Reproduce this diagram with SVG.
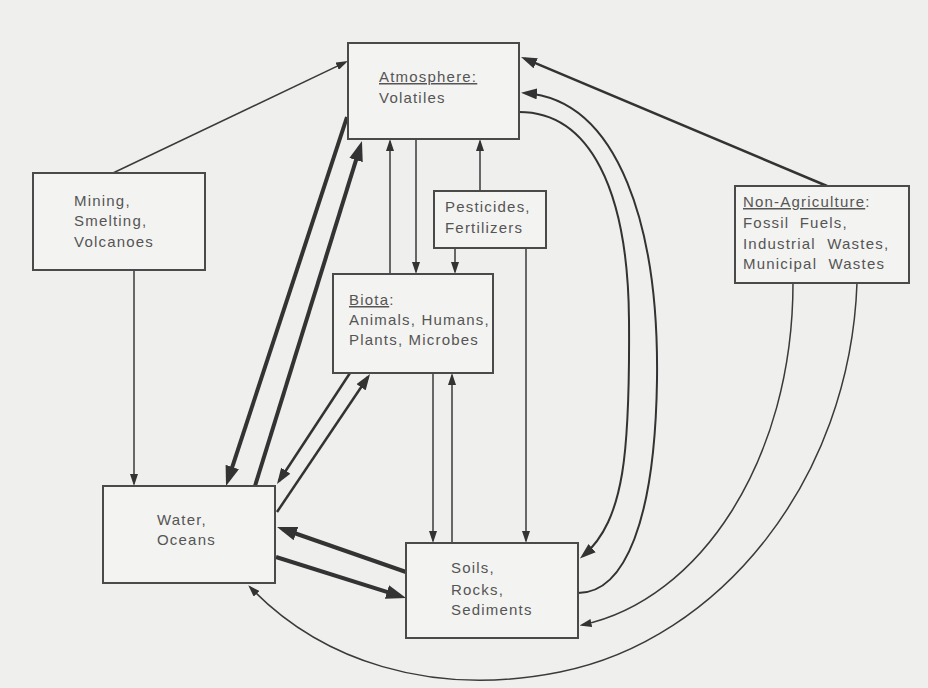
<svg xmlns="http://www.w3.org/2000/svg" width="928" height="688" viewBox="0 0 928 688">
<style>
.box{fill:#f3f3f1;stroke:#4a4a4a;stroke-width:2}
.t{font-family:"Liberation Sans",Arial,sans-serif;font-size:15px;fill:#555;letter-spacing:1.2px}
.u{text-decoration:underline}
.thick{fill:none;stroke:#333;stroke-width:4}
.med{fill:none;stroke:#333;stroke-width:2.5}
.thin{fill:none;stroke:#3a3a3a;stroke-width:1.5}
.crv{fill:none;stroke:#333;stroke-width:2}
</style>
<defs>
<marker id="big" markerUnits="userSpaceOnUse" viewBox="0 0 20 14" refX="14" refY="7" markerWidth="20" markerHeight="14" orient="auto"><path d="M0,0 L20,7 L0,14 z" fill="#333"/></marker>
<marker id="mid" markerUnits="userSpaceOnUse" viewBox="0 0 16 11" refX="12" refY="5.5" markerWidth="16" markerHeight="11" orient="auto"><path d="M0,0 L16,5.5 L0,11 z" fill="#333"/></marker>
<marker id="sm" markerUnits="userSpaceOnUse" viewBox="0 0 12 8" refX="9.5" refY="4" markerWidth="12" markerHeight="8" orient="auto"><path d="M0,0 L12,4 L0,8 z" fill="#333"/></marker>
</defs>
<rect width="928" height="688" fill="#efefed"/>

<g id="connectors">
<path class="thin" d="M113,173 L345.7,62.1" marker-end="url(#sm)"/>
<path class="thin" d="M134,270 L134,483.5" marker-end="url(#sm)"/>
<path class="thick" d="M347,117 L227.9,480.3" marker-end="url(#big)"/>
<path class="thick" d="M255,486 L360.2,146.7" marker-end="url(#big)"/>
<path class="med" d="M350,373 L279.2,480.7" marker-end="url(#mid)"/>
<path class="med" d="M277,512 L367.8,377.3" marker-end="url(#mid)"/>
<path class="thick" d="M406,572 L282.7,529" marker-end="url(#big)"/>
<path class="thick" d="M276,557 L400.3,596.2" marker-end="url(#big)"/>
<path class="thin" d="M390,274 L390,141.5" marker-end="url(#sm)"/>
<path class="thin" d="M416,139 L416,271.5" marker-end="url(#sm)"/>
<path class="thin" d="M480,191 L480,141.5" marker-end="url(#sm)"/>
<path class="thin" d="M455,248 L455,271.5" marker-end="url(#sm)"/>
<path class="thin" d="M526,248 L526,540.5" marker-end="url(#sm)"/>
<path class="thin" d="M433,373 L433,540.5" marker-end="url(#sm)"/>
<path class="thin" d="M452,543 L452,375.5" marker-end="url(#sm)"/>
<path class="med" d="M827,186 L524.7,58.6" marker-end="url(#mid)"/>
<path class="crv" d="M519,112 C590,112 628,190 629,320 C630,450 625,520 583,556" marker-end="url(#mid)"/>
<path class="crv" d="M578,593 C625,593 655,520 657,380 C659,230 620,100 525,93" marker-end="url(#mid)"/>
<path class="thin" d="M793,283 C793,460 700,600 582,625" marker-end="url(#sm)"/>
<path class="thin" d="M857,283 C850,480 720,640 560,672 C430,698 320,660 250,587" marker-end="url(#sm)"/>
</g>

<g id="atmosphere">
<rect class="box" x="348" y="43" width="171" height="96"/>
<text class="t" x="379" y="82"><tspan class="u">Atmosphere:</tspan></text>
<text class="t" x="379" y="103">Volatiles</text>
</g>

<g id="mining">
<rect class="box" x="33" y="173" width="172" height="97"/>
<text class="t" x="74" y="206">Mining,</text>
<text class="t" x="74" y="226">Smelting,</text>
<text class="t" x="74" y="247">Volcanoes</text>
</g>

<g id="pesticides">
<rect class="box" x="434" y="191" width="112" height="57"/>
<text class="t" x="445" y="212">Pesticides,</text>
<text class="t" x="445" y="233">Fertilizers</text>
</g>

<g id="biota">
<rect class="box" x="333" y="274" width="160" height="99"/>
<text class="t" x="349" y="305"><tspan class="u">Biota</tspan>:</text>
<text class="t" x="349" y="325">Animals, Humans,</text>
<text class="t" x="349" y="345">Plants, Microbes</text>
</g>

<g id="nonagriculture">
<rect class="box" x="735" y="186" width="174" height="97"/>
<text class="t" x="743" y="207"><tspan class="u">Non-Agriculture</tspan>:</text>
<text class="t" x="743" y="228" word-spacing="5">Fossil Fuels,</text>
<text class="t" x="743" y="249" word-spacing="6">Industrial Wastes,</text>
<text class="t" x="743" y="269" word-spacing="6">Municipal Wastes</text>
</g>

<g id="water">
<rect class="box" x="103" y="486" width="172" height="97"/>
<text class="t" x="157" y="525">Water,</text>
<text class="t" x="157" y="545">Oceans</text>
</g>

<g id="soils">
<rect class="box" x="406" y="543" width="172" height="95"/>
<text class="t" x="451" y="573">Soils,</text>
<text class="t" x="451" y="595">Rocks,</text>
<text class="t" x="451" y="615">Sediments</text>
</g>
</svg>
